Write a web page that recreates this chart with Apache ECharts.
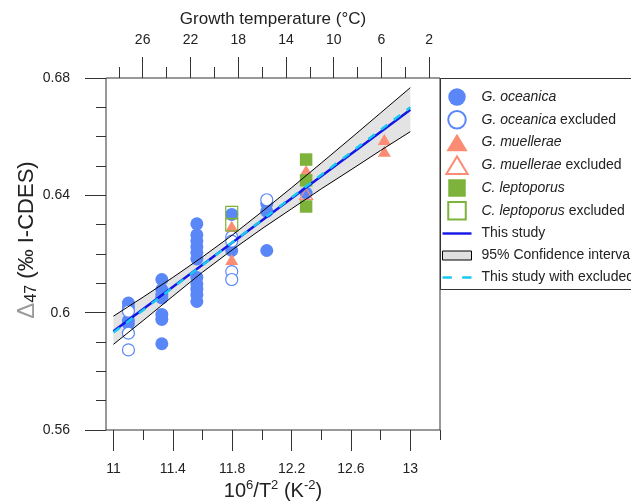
<!DOCTYPE html>
<html><head><meta charset="utf-8">
<script src="https://cdn.jsdelivr.net/npm/echarts@6/dist/echarts.min.js"></script>
<style>html,body{margin:0;padding:0;background:#fff}#c{width:631px;height:502px}</style>
</head><body><div id="c"></div>
<script>
// ---- tick labels ----
const bottomTicks = [11, 11.4, 11.8, 12.2, 12.6, 13];
const bottomMinorTicks = [11.2, 11.6, 12.0, 12.4, 12.8, 13.2];
const topTicks = [26, 22, 18, 14, 10, 6, 2];
const topMinorTicks = [28, 24, 20, 16, 12, 8, 4];

// ---- data (x = 10^6/T^2, y = Δ47) ----
const oceanica = [
  [11.101, 0.6033], [11.101, 0.6020], [11.101, 0.5973], [11.101, 0.5962],
  [11.326, 0.6113], [11.326, 0.6079], [11.326, 0.6062], [11.326, 0.6050], [11.326, 0.5994], [11.326, 0.5977], [11.326, 0.5894],
  [11.562, 0.6303], [11.562, 0.6265], [11.562, 0.6245], [11.562, 0.6225], [11.562, 0.6205], [11.562, 0.6183],
  [11.562, 0.6120], [11.562, 0.6098], [11.562, 0.6080], [11.562, 0.6060], [11.562, 0.6038],
  [11.797, 0.6335], [11.797, 0.6212],
  [12.033, 0.6372], [12.033, 0.6345], [12.033, 0.6212],
  [12.298, 0.6408]
];
const oceanicaExcluded = [
  [11.101, 0.6005], [11.101, 0.5930], [11.101, 0.5873],
  [11.797, 0.6258], [11.797, 0.6244], [11.797, 0.6140], [11.797, 0.6113],
  [12.033, 0.6385]
];
const muellerae = [[11.797, 0.6295], [11.797, 0.6181], [12.298, 0.6485], [12.825, 0.6590], [12.825, 0.6550]];
const muelleraeExcluded = [[12.298, 0.6405]];
const leptoporus = [[12.298, 0.6522], [12.298, 0.6451], [12.298, 0.6362]];
const leptoporusExcluded = [[11.797, 0.6342], [11.797, 0.6299]];

// regression lines
const lineX = [11.0, 13.0];
const thisStudyY = [0.5937, 0.6692];
const withExcludedY = [0.5932, 0.6700];

// 95% confidence band
const ciX = [11.0, 11.2, 11.4, 11.6, 11.8, 12.0, 12.2, 12.4, 12.6, 12.8, 13.0];
const ciUpper = [0.5988, 0.6053, 0.6120, 0.6190, 0.6264, 0.6344, 0.6426, 0.6510, 0.6595, 0.6681, 0.6767];
const ciLower = [0.5892, 0.5973, 0.6056, 0.6138, 0.6214, 0.6286, 0.6354, 0.6422, 0.6487, 0.6553, 0.6617];

const FONT = 'Liberation Sans, Arial, sans-serif';
const TXT = '#222';
const AX = '#333';
const BLUE = '#5a87f7', SALMON = '#fa8c73', GREEN = '#7db33a';
const LINE_BLUE = '#1414e6', LINE_CYAN = '#18c8f0';

const legendLabels = {
  'G. oceanica': '{i|G. oceanica}',
  'G. oceanica excluded': '{i|G. oceanica} excluded',
  'G. muellerae': '{i|G. muellerae}',
  'G. muellerae excluded': '{i|G. muellerae} excluded',
  'C. leptoporus': '{i|C. leptoporus}',
  'C. leptoporus excluded': '{i|C. leptoporus} excluded',
  'This study': 'This study',
  '95% Confidence interval': '95% Confidence interval',
  'This study with excluded': 'This study with excluded'
};

const zip = (xs, ys) => xs.map((x, i) => [x, ys[i]]);
const TRI = 'path://M0,14L8.5,0L17,14Z';
const SQ = 'path://M0,0H17V17H0Z';

const chart = echarts.init(document.getElementById('c'), null, {renderer: 'canvas'});
chart.setOption({
  animation: false,
  backgroundColor: '#fff',
  textStyle: {fontFamily: FONT},
  grid: {left: 106, top: 78, width: 334, height: 352, containLabel: false, outerBoundsMode: 'none',
    show: true, borderColor: AX, borderWidth: 1, backgroundColor: 'transparent'},
  xAxis: [
    {
      type: 'value', position: 'bottom', min: 10.95, max: 13.2,
      axisLine: {show: false}, splitLine: {show: false},
      axisTick: {show: true, inside: false, length: 21, customValues: bottomTicks, lineStyle: {color: AX}},
      axisLabel: {customValues: bottomTicks, margin: 32, fontSize: 14, color: TXT, fontFamily: FONT},
      name: '10{sup|6}/T{sup|2} (K{sup|-2})', nameLocation: 'middle', nameGap: 49, nameMoveOverlap: false,
      nameTextStyle: {fontSize: 20, color: TXT, fontFamily: FONT, lineHeight: 24,
        rich: {sup: {fontSize: 13, lineHeight: 14, verticalAlign: 'top', color: TXT, fontFamily: FONT}}}
    },
    {
      type: 'value', position: 'bottom', min: 10.95, max: 13.2,
      axisLine: {show: false}, splitLine: {show: false},
      axisTick: {show: true, inside: false, length: 10, customValues: bottomMinorTicks, lineStyle: {color: AX}},
      axisLabel: {show: false}
    },
    {
      type: 'value', position: 'top', min: 1.1, max: 29.07, inverse: true,
      axisLine: {show: false}, splitLine: {show: false},
      axisTick: {show: true, inside: false, length: 21, customValues: topTicks, lineStyle: {color: AX}},
      axisLabel: {customValues: topTicks, margin: 31, fontSize: 14, color: TXT, fontFamily: FONT},
      name: 'Growth temperature (°C)', nameLocation: 'middle', nameGap: 50, nameMoveOverlap: false,
      nameTextStyle: {fontSize: 17, color: TXT, fontFamily: FONT}
    },
    {
      type: 'value', position: 'top', min: 1.1, max: 29.07, inverse: true,
      axisLine: {show: false}, splitLine: {show: false},
      axisTick: {show: true, inside: false, length: 11, customValues: topMinorTicks, lineStyle: {color: AX}},
      axisLabel: {show: false}
    }
  ],
  yAxis: [{
    type: 'value', min: 0.56, max: 0.68, interval: 0.04,
    axisLine: {show: false}, splitLine: {show: false},
    axisTick: {show: true, inside: false, length: 21, lineStyle: {color: AX}},
    minorTick: {show: true, splitNumber: 4, length: 10, lineStyle: {color: AX}},
    minorSplitLine: {show: false},
    axisLabel: {margin: 36, fontSize: 14, color: TXT, fontFamily: FONT},
    name: '{d|Δ}{s|47}{t| (‰ I-CDES)}', nameLocation: 'middle', nameGap: 66, nameMoveOverlap: false,
    nameTextStyle: {fontSize: 22, color: TXT, fontFamily: FONT, lineHeight: 26, padding: [0, 0, 0, 28],
      rich: {
        d: {color: '#9a9a9a', fontSize: 24, lineHeight: 26, fontFamily: FONT},
        s: {fontSize: 16, lineHeight: 16, verticalAlign: 'bottom', color: TXT, fontFamily: FONT},
        t: {fontSize: 22, lineHeight: 26, color: TXT, fontFamily: FONT}
      }}
  }],
  legend: {
    orient: 'vertical', left: 442, top: 88, padding: 0,
    itemWidth: 29, itemHeight: 17.5, itemGap: 4.0, selectedMode: false,
    textStyle: {fontSize: 14, color: TXT, fontFamily: FONT, lineHeight: 18, padding: [0, 0, 0, 5],
      rich: {i: {fontStyle: 'italic', fontSize: 14, color: TXT, fontFamily: FONT, lineHeight: 18}}},
    formatter: n => legendLabels[n],
    data: [
      {name: 'G. oceanica', icon: 'circle'},
      {name: 'G. oceanica excluded', icon: 'circle'},
      {name: 'G. muellerae', icon: TRI},
      {name: 'G. muellerae excluded', icon: TRI},
      {name: 'C. leptoporus', icon: SQ},
      {name: 'C. leptoporus excluded', icon: SQ},
      {name: 'This study', icon: 'path://M0,0H29V2.4H0Z', itemStyle: {color: LINE_BLUE, borderWidth: 0}},
      {name: '95% Confidence interval', icon: 'path://M0,0H29V9H0Z', itemStyle: {color: '#e0e0e0', borderColor: '#000', borderWidth: 1}},
      {name: 'This study with excluded', icon: 'path://M0,0H9V2.4H0Z M19,0H28V2.4H19Z', itemStyle: {color: LINE_CYAN, borderWidth: 0}}
    ]
  },
  graphic: [{
    type: 'rect', z: 0, silent: true,
    shape: {x: 440.5, y: 78.5, width: 220, height: 211},
    style: {fill: 'none', stroke: AX, lineWidth: 1}
  }],
  series: [
    {
      type: 'custom', name: '95% Confidence interval', xAxisIndex: 0, yAxisIndex: 0, z: 1, silent: true,
      data: ciX.map((x, i) => [x, ciLower[i], ciUpper[i]]),
      encode: {x: 0, y: [1, 2]},
      itemStyle: {color: '#e0e0e0', borderColor: '#000', borderWidth: 1},
      renderItem: (params, api) => {
        if (params.dataIndex !== 0) return null;
        const up = ciX.map((x, i) => api.coord([x, ciUpper[i]]));
        const lo = ciX.map((x, i) => api.coord([x, ciLower[i]])).reverse();
        return {type: 'polygon', shape: {points: up.concat(lo)}, style: {fill: '#e3e3e3', stroke: null}};
      }
    },
    {type: 'scatter', name: 'G. oceanica', data: oceanica, symbol: 'circle', symbolSize: 13, z: 2,
      itemStyle: {color: BLUE, opacity: 1}},
    {type: 'scatter', name: 'G. oceanica excluded', data: oceanicaExcluded, symbol: 'circle', symbolSize: 12, z: 2,
      itemStyle: {color: '#fff', borderColor: BLUE, borderWidth: 1.2, opacity: 1}},
    {type: 'scatter', name: 'G. muellerae', data: muellerae, symbol: 'triangle', symbolSize: [13, 11], z: 2,
      itemStyle: {color: SALMON, opacity: 1}},
    {type: 'scatter', name: 'G. muellerae excluded', data: muelleraeExcluded, symbol: 'triangle', symbolSize: [13, 11], z: 2,
      itemStyle: {color: 'rgba(255,255,255,0)', borderColor: SALMON, borderWidth: 1.2, opacity: 1}},
    {type: 'scatter', name: 'C. leptoporus', data: leptoporus, symbol: 'rect', symbolSize: 12.5, z: 2,
      itemStyle: {color: GREEN, opacity: 1}},
    {type: 'scatter', name: 'C. leptoporus excluded', data: leptoporusExcluded, symbol: 'rect', symbolSize: 12, z: 2,
      itemStyle: {color: 'rgba(255,255,255,0)', borderColor: GREEN, borderWidth: 1.2, opacity: 1}},
    {type: 'line', name: 'ci upper', data: zip(ciX, ciUpper), symbol: 'none', z: 3, silent: true,
      lineStyle: {color: '#000', width: 1}},
    {type: 'line', name: 'ci lower', data: zip(ciX, ciLower), symbol: 'none', z: 3, silent: true,
      lineStyle: {color: '#000', width: 1}},
    {type: 'line', name: 'This study', data: zip(lineX, thisStudyY), symbol: 'none', z: 4,
      itemStyle: {color: LINE_BLUE}, lineStyle: {color: LINE_BLUE, width: 2.5}},
    {type: 'line', name: 'This study with excluded', data: zip(lineX, withExcludedY), symbol: 'none', z: 5,
      itemStyle: {color: LINE_CYAN}, lineStyle: {color: LINE_CYAN, width: 2.5, type: [8, 8]}}
  ]
});
</script>
</body></html>
